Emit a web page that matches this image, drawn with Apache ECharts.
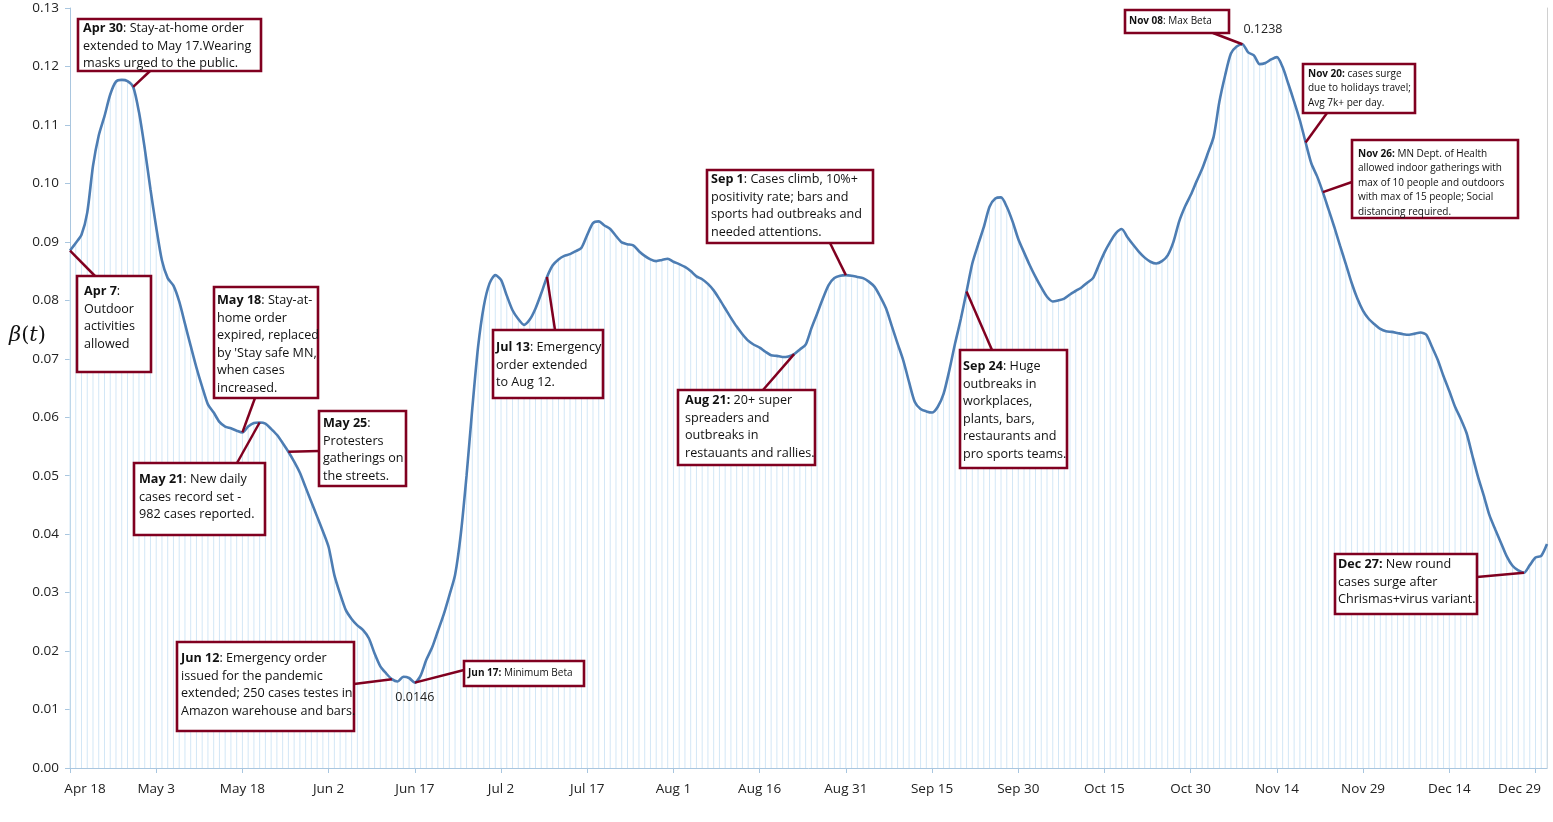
<!DOCTYPE html>
<html>
<head>
<meta charset="utf-8">
<title>beta(t) Minnesota 2020</title>
<script src="https://cdn.jsdelivr.net/npm/echarts@6/dist/echarts.min.js"></script>
<style>
  html, body { margin: 0; padding: 0; background: #fff; }
  #main { width: 1553px; height: 822px; }
</style>
</head>
<body>
<div id="main"></div>
<script>
// daily beta(t), Apr 18 .. Dec 31
var beta = [
  0.0885, 0.0898, 0.0912, 0.0950, 0.1030, 0.1082, 0.1115, 0.1152, 0.1174, 0.1177,
  0.1175, 0.1165, 0.1122, 0.1060, 0.0990, 0.0925, 0.0868, 0.0838, 0.0825, 0.0798,
  0.0760, 0.0722, 0.0685, 0.0652, 0.0622, 0.0608, 0.0592, 0.0584, 0.0581, 0.0577,
  0.0574, 0.0584, 0.0590, 0.0591, 0.0589, 0.0580, 0.0570, 0.0556, 0.0541, 0.0524,
  0.0505, 0.0480, 0.0455, 0.0430, 0.0405, 0.0378, 0.0330, 0.0298, 0.0270, 0.0255,
  0.0244, 0.0236, 0.0222, 0.0196, 0.0174, 0.0162, 0.0152, 0.0148, 0.0156, 0.0154,
  0.0146, 0.0158, 0.0185, 0.0206, 0.0234, 0.0262, 0.0295, 0.0330, 0.0400, 0.0500,
  0.0615, 0.0720, 0.0790, 0.0829, 0.0843, 0.0835, 0.0808, 0.0783, 0.0768, 0.0758,
  0.0767, 0.0786, 0.0812, 0.0840, 0.0860, 0.0870, 0.0876, 0.0879, 0.0884, 0.0890,
  0.0912, 0.0932, 0.0935, 0.0928, 0.0922, 0.0910, 0.0899, 0.0896, 0.0894, 0.0884,
  0.0876, 0.0870, 0.0867, 0.0869, 0.0871, 0.0866, 0.0862, 0.0857, 0.0850, 0.0841,
  0.0836, 0.0828, 0.0817, 0.0802, 0.0786, 0.0770, 0.0755, 0.0742, 0.0731, 0.0724,
  0.0719, 0.0712, 0.0706, 0.0705, 0.0703, 0.0704, 0.0708, 0.0716, 0.0724, 0.0752,
  0.0777, 0.0803, 0.0826, 0.0838, 0.0842, 0.0843, 0.0842, 0.0840, 0.0838, 0.0832,
  0.0823, 0.0806, 0.0786, 0.0756, 0.0726, 0.0697, 0.0660, 0.0626, 0.0614, 0.0610,
  0.0608, 0.0618, 0.0640, 0.0680, 0.0726, 0.0768, 0.0815, 0.0863, 0.0895, 0.0925,
  0.0960, 0.0974, 0.0976, 0.0960, 0.0935, 0.0905, 0.0882, 0.0860, 0.0840, 0.0822,
  0.0806, 0.0798, 0.0800, 0.0803, 0.0810, 0.0816, 0.0822, 0.0830, 0.0838, 0.0860,
  0.0882, 0.0900, 0.0915, 0.0922, 0.0908, 0.0895, 0.0883, 0.0873, 0.0866, 0.0863,
  0.0867, 0.0877, 0.0900, 0.0935, 0.0960, 0.0980, 0.1003, 0.1025, 0.1052, 0.1080,
  0.1140, 0.1185, 0.1222, 0.1234, 0.1238, 0.1224, 0.1219, 0.1204, 0.1206, 0.1212,
  0.1216, 0.1199, 0.1170, 0.1140, 0.1108, 0.1070, 0.1034, 0.1012, 0.0985, 0.0955,
  0.0925, 0.0893, 0.0862, 0.0830, 0.0803, 0.0782, 0.0768, 0.0759, 0.0751, 0.0747,
  0.0746, 0.0744, 0.0742, 0.0741, 0.0743, 0.0745, 0.0741, 0.0720, 0.0698, 0.0670,
  0.0645, 0.0618, 0.0597, 0.0573, 0.0535, 0.0498, 0.0466, 0.0432, 0.0408, 0.0385,
  0.0362, 0.0346, 0.0338, 0.0334, 0.0347, 0.0360, 0.0363, 0.0383
];

var MONTHS = ['Jan', 'Feb', 'Mar', 'Apr', 'May', 'Jun', 'Jul', 'Aug', 'Sep', 'Oct', 'Nov', 'Dec'];
var days = [];
for (var i = 0; i < beta.length; i++) {
  var dt = new Date(2020, 3, 18 + i);
  days.push(MONTHS[dt.getMonth()] + ' ' + dt.getDate());
}

var yTicks = { min: 0, max: 0.13, step: 0.01 };

// annotation boxes: at = day index the connector points to
var notes = [
  { at: 11,  box: [78, 19, 183, 52],   tx: 5, ty: 20,  end: [150, 71],  small: false,
    text: '{b|Apr 30}: Stay-at-home order\nextended to May 17.Wearing\nmasks urged to the public.' },
  { at: 0,   box: [77, 276, 74, 96],   tx: 7, ty: 283, end: [95, 276],  small: false,
    text: '{b|Apr 7}:\nOutdoor\nactivities\nallowed' },
  { at: 30,  box: [214, 287, 104, 111], tx: 3, ty: 292, end: [255, 398], small: false,
    text: '{b|May 18}: Stay-at-\nhome order\nexpired, replaced\nby \'Stay safe MN,\nwhen cases\nincreased.' },
  { at: 33,  box: [134, 463, 131, 72], tx: 5, ty: 471, end: [237, 463], small: false,
    text: '{b|May 21}: New daily\ncases record set -\n982 cases reported.' },
  { at: 38,  box: [319, 411, 87, 75],  tx: 4, ty: 415, end: [319, 451], small: false,
    text: '{b|May 25}:\nProtesters\ngatherings on\nthe streets.' },
  { at: 56,  box: [177, 642, 177, 89], tx: 4, ty: 650, end: [354, 684], small: false,
    text: '{b|Jun 12}: Emergency order\nissued for the pandemic\nextended; 250 cases testes in\nAmazon warehouse and bars.' },
  { at: 60,  box: [464, 661, 120, 25], tx: 4, ty: 666, end: [464, 670], small: true,
    text: '{b|Jun 17:} Minimum Beta' },
  { at: 83,  box: [493, 330, 110, 68], tx: 3, ty: 339, end: [555, 330], small: false,
    text: '{b|Jul 13}: Emergency\norder extended\nto Aug 12.' },
  { at: 126, box: [678, 390, 137, 75], tx: 7, ty: 392, end: [763, 390], small: false,
    text: '{b|Aug 21:} 20+ super\nspreaders and\noutbreaks in\nrestauants and rallies.' },
  { at: 135, box: [707, 170, 166, 73], tx: 4, ty: 171, end: [830, 243], small: false,
    text: '{b|Sep 1}: Cases climb, 10%+\npositivity rate; bars and\nsports had outbreaks and\nneeded attentions.' },
  { at: 156, box: [960, 350, 107, 118], tx: 3, ty: 358, end: [992, 350], small: false,
    text: '{b|Sep 24}: Huge\noutbreaks in\nworkplaces,\nplants, bars,\nrestaurants and\npro sports teams.' },
  { at: 204, box: [1125, 10, 104, 23], tx: 4, ty: 14,  end: [1213, 33], small: true,
    text: '{b|Nov 08}: Max Beta' },
  { at: 215, box: [1303, 64, 112, 49], tx: 5, ty: 67,  end: [1327, 113], small: true,
    text: '{b|Nov 20:} cases surge\ndue to holidays travel;\nAvg 7k+ per day.' },
  { at: 218, box: [1352, 140, 166, 78], tx: 6, ty: 147, end: [1352, 182], small: true,
    text: '{b|Nov 26:} MN Dept. of Health\nallowed indoor gatherings with\nmax of 10 people and outdoors\nwith max of 15 people; Social\ndistancing required.' },
  { at: 253, box: [1335, 554, 142, 60], tx: 3, ty: 556, end: [1477, 577], small: false,
    text: '{b|Dec 27:} New round\ncases surge after\nChrismas+virus variant.' }
];

var FONT = '"Open Sans", "Noto Sans", sans-serif';
var RED = '#800020';
var AXIS = '#a9c6df';

var chart = echarts.init(document.getElementById('main'));

var option = {
  animation: false,
  grid: { left: 70, right: 6, top: 8, bottom: 54, containLabel: false, outerBoundsMode: 'none' },
  xAxis: {
    type: 'category',
    data: days,
    boundaryGap: false,
    axisLine: { lineStyle: { color: AXIS, width: 1 } },
    axisTick: {
      length: 5,
      lineStyle: { color: AXIS },
      interval: function (idx) { return idx % 15 === 0; }
    },
    axisLabel: {
      interval: function (idx) { return idx % 15 === 0; },
      margin: 14,
      color: '#222',
      fontSize: 13.5,
      fontFamily: FONT,
      formatter: function (val, idx) {
        if (idx === 0) return '{first|' + val + '}';
        if (idx === 255) return '{last|' + val + '}';
        return val;
      },
      rich: {
        first: { padding: [0, 0, 0, 30], fontSize: 13.5, fontFamily: FONT, color: '#222' },
        last: { padding: [0, 32, 0, 0], fontSize: 13.5, fontFamily: FONT, color: '#222' }
      }
    },
    splitLine: { show: false }
  },
  yAxis: [{
    type: 'value',
    min: yTicks.min,
    max: yTicks.max,
    interval: yTicks.step,
    name: '{i|β}{r|(}{i|t}{r|)}',
    nameLocation: 'middle',
    nameRotate: 0,
    nameGap: 24,
    nameMoveOverlap: false,
    nameTextStyle: {
      padding: [0, 0, 104, 0],
      rich: {
        i: { fontFamily: '"DejaVu Serif", serif', fontStyle: 'italic', fontSize: 21, color: '#111' },
        r: { fontFamily: '"DejaVu Serif", serif', fontSize: 21, color: '#111' }
      }
    },
    axisLine: { show: true, lineStyle: { color: AXIS } },
    axisTick: { show: true, length: 5, lineStyle: { color: AXIS } },
    axisLabel: {
      margin: 11,
      color: '#222',
      fontSize: 13.5,
      fontFamily: FONT,
      formatter: function (v) { return v.toFixed(2); }
    },
    splitLine: { show: false }
  }, {
    type: 'value',
    position: 'right',
    min: yTicks.min,
    max: yTicks.max,
    axisLine: { show: true, lineStyle: { color: '#d0d0d0' } },
    axisTick: { show: false },
    axisLabel: { show: false },
    splitLine: { show: false }
  }],
  series: [{
    type: 'bar',
    data: beta,
    barWidth: 1,
    itemStyle: { color: '#d3e7f6' },
    silent: true
  }, {
    type: 'line',
    data: beta,
    showSymbol: false,
    smooth: 0.25,
    lineStyle: { color: '#4d7db3', width: 2.6 },
    z: 3,
    markPoint: {
      symbol: 'circle',
      symbolSize: 2,
      itemStyle: { color: 'rgba(0,0,0,0)' },
      label: {
        show: true,
        color: '#222',
        fontSize: 12.5,
        fontFamily: FONT,
        formatter: function (p) { return p.value.toFixed(4); }
      },
      data: [
        { type: 'max', label: { position: 'right', distance: 0, offset: [0, -15] } },
        { type: 'min', label: { position: 'bottom', distance: 7 } }
      ]
    }
  }]
};

chart.setOption(option);

var graphics = [];
notes.forEach(function (n) {
  var p = chart.convertToPixel({ seriesIndex: 1 }, [n.at, beta[n.at]]);
  var fs = n.small ? 10 : 12.6;
  var lh = n.small ? 14.4 : 17.5;
  graphics.push({
    type: 'line', z: 10,
    shape: { x1: p[0], y1: p[1], x2: n.end[0], y2: n.end[1] },
    style: { stroke: RED, lineWidth: 2.5 }
  });
  graphics.push({
    type: 'rect', z: 11,
    shape: { x: n.box[0], y: n.box[1], width: n.box[2], height: n.box[3] },
    style: { fill: '#fff', stroke: RED, lineWidth: 2.6 }
  });
  graphics.push({
    type: 'text', z: 12,
    x: n.box[0] + n.tx, y: n.ty,
    style: {
      text: n.text,
      fill: '#111',
      fontSize: fs,
      fontFamily: FONT,
      lineHeight: lh,
      verticalAlign: 'top',
      rich: {
        b: { fontWeight: 'bold', fontSize: fs, fontFamily: FONT, lineHeight: lh, fill: '#111' }
      }
    }
  });
});

chart.setOption({ graphic: graphics });
</script>
</body>
</html>
